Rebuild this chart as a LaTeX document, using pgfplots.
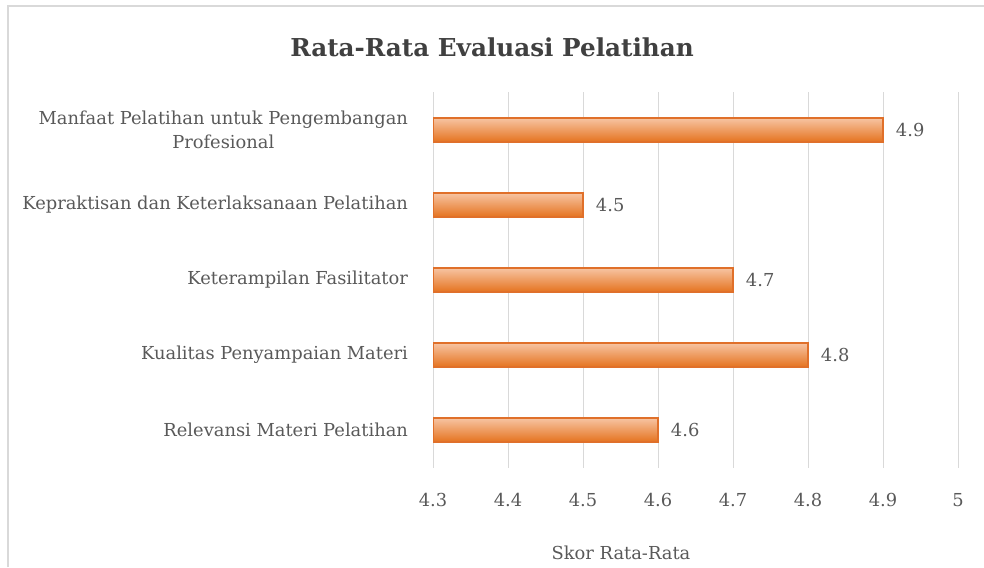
\documentclass[border=0pt]{standalone}
\usepackage{fontspec}
\setmainfont{DejaVu Serif}
\usepackage{pgfplots}
\pgfplotsset{compat=1.18}
\definecolor{txt}{HTML}{595959}
\definecolor{ttl}{HTML}{404040}
\definecolor{gridc}{HTML}{D9D9D9}
\definecolor{framec}{HTML}{D9D9D9}
\definecolor{barTop}{HTML}{F7C4A2}
\definecolor{barMid}{HTML}{F1A06A}
\definecolor{barBot}{HTML}{E5731F}
\definecolor{barEdge}{HTML}{E0702A}
\pgfplotsset{mybar/.style={xbar, bar width=18pt, bar shift=0pt, draw=barEdge, line width=0.8pt, top color=barTop, middle color=barMid, bottom color=barBot}}
\begin{document}
\begin{tikzpicture}
\path[use as bounding box] (0,0) rectangle (738pt,425.25pt);
\draw[color=framec, line width=1.5pt] (6pt,0) -- (6pt,420.75pt) -- (738pt,420.75pt);
\node[font=\bfseries\fontsize{18.5}{22}\selectfont, text=ttl] at (369pt,390pt) {Rata-Rata Evaluasi Pelatihan};
\node[font=\fontsize{13.4}{18}\selectfont, text=txt] at (465.75pt,10.5pt) {Skor Rata-Rata};
\begin{axis}[
  at={(324.75pt,74.625pt)}, anchor=south west,
  scale only axis, width=393.75pt, height=281.25pt,
  xmin=4.3, xmax=5, ymin=-0.5, ymax=4.5,
  xtick={4.3,4.4,4.5,4.6,4.7,4.8,4.9,5},
  xticklabels={4.3,4.4,4.5,4.6,4.7,4.8,4.9,5},
  ytick={0,1,2,3,4},
  yticklabels={Relevansi Materi Pelatihan, Kualitas Penyampaian Materi, Keterampilan Fasilitator, Kepraktisan dan Keterlaksanaan Pelatihan, {Manfaat Pelatihan untuk Pengembangan\\Profesional}},
  /pgf/number format/assume math mode=true,
  xmajorgrids, grid style={color=gridc, line width=0.75pt},
  axis line style={draw=none},
  major tick style={draw=none},
  tick label style={font=\fontsize{13.4}{18}\selectfont, text=txt},
  xticklabel style={yshift=-16pt},
  yticklabel style={align=center, xshift=-11pt},
  xbar,
  nodes near coords,
  nodes near coords style={anchor=west, xshift=6pt, font=\fontsize{13.4}{18}\selectfont, text=txt, /pgf/number format/.cd, fixed, fixed zerofill, precision=1, assume math mode=true},
]
\addplot[mybar] coordinates {(4.6,0)};
\addplot[mybar] coordinates {(4.8,1)};
\addplot[mybar] coordinates {(4.7,2)};
\addplot[mybar] coordinates {(4.5,3)};
\addplot[mybar] coordinates {(4.9,4)};
\end{axis}
\end{tikzpicture}
\end{document}
